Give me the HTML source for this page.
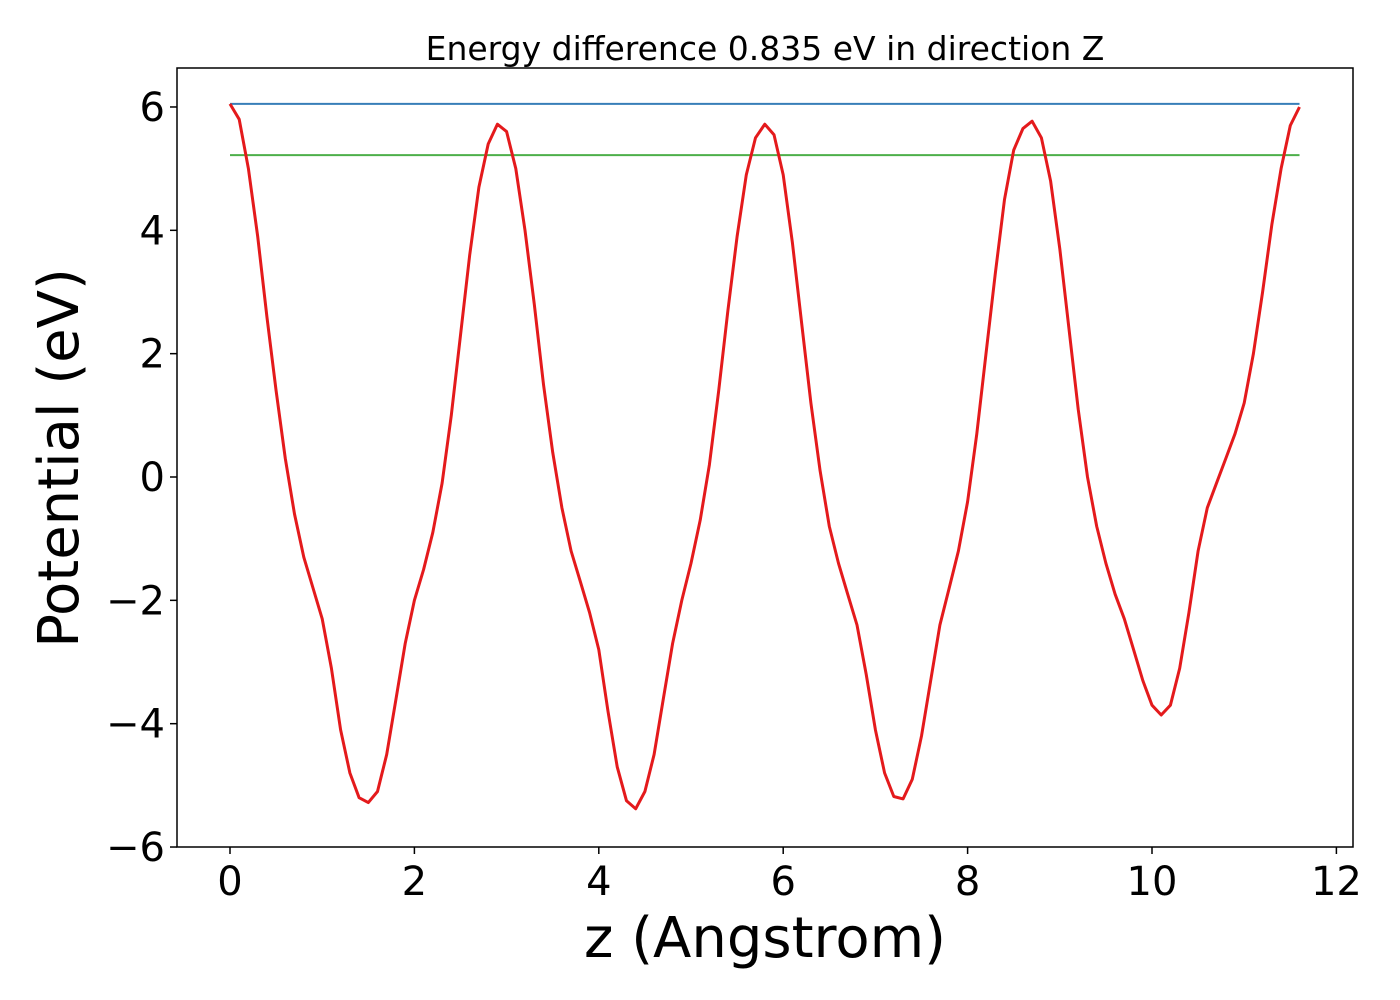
<!DOCTYPE html>
<html><head><meta charset="utf-8"><style>
html,body{margin:0;padding:0;background:#fff;}
svg{display:block;font-family:"DejaVu Sans","Liberation Sans",sans-serif;}
</style></head><body>
<svg id="chart" width="1400" height="1000" viewBox="0 0 1400 1000">
<rect x="0" y="0" width="1400" height="1000" fill="#fff"/>
<text x="765" y="60" font-size="33" text-anchor="middle">Energy difference 0.835 eV in direction Z</text>
<g id="plot"></g>
<text x="765" y="957" font-size="56" text-anchor="middle">z (Angstrom)</text>
<text transform="translate(78,458) rotate(-90)" font-size="56" text-anchor="middle">Potential (eV)</text>
</svg>
<script>
const zValues=[0,0.1,0.2,0.3,0.4,0.5,0.6,0.7,0.8,0.9,1.0,1.1,1.2,1.3,1.4,1.5,1.6,1.7,1.8,1.9,2.0,2.1,2.2,2.3,2.4,2.5,2.6,2.7,2.8,2.9,3.0,3.1,3.2,3.3,3.4,3.5,3.6,3.7,3.8,3.9,4.0,4.1,4.2,4.3,4.4,4.5,4.6,4.7,4.8,4.9,5.0,5.1,5.2,5.3,5.4,5.5,5.6,5.7,5.8,5.9,6.0,6.1,6.2,6.3,6.4,6.5,6.6,6.7,6.8,6.9,7.0,7.1,7.2,7.3,7.4,7.5,7.6,7.7,7.8,7.9,8.0,8.1,8.2,8.3,8.4,8.5,8.6,8.7,8.8,8.9,9.0,9.1,9.2,9.3,9.4,9.5,9.6,9.7,9.8,9.9,10.0,10.1,10.2,10.3,10.4,10.5,10.6,10.7,10.8,10.9,11.0,11.1,11.2,11.3,11.4,11.5,11.6];
const potential=[6.05,5.8,5.0,3.9,2.6,1.4,0.3,-0.6,-1.3,-1.8,-2.3,-3.1,-4.1,-4.8,-5.2,-5.28,-5.1,-4.5,-3.6,-2.7,-2.0,-1.5,-0.9,-0.1,1.0,2.3,3.6,4.7,5.4,5.72,5.6,5.0,4.0,2.8,1.5,0.4,-0.5,-1.2,-1.7,-2.2,-2.8,-3.8,-4.7,-5.25,-5.38,-5.1,-4.5,-3.6,-2.7,-2.0,-1.4,-0.7,0.2,1.4,2.7,3.9,4.9,5.5,5.72,5.55,4.9,3.8,2.5,1.2,0.1,-0.8,-1.4,-1.9,-2.4,-3.2,-4.1,-4.8,-5.18,-5.22,-4.9,-4.2,-3.3,-2.4,-1.8,-1.2,-0.4,0.7,2.0,3.3,4.5,5.3,5.65,5.77,5.5,4.8,3.7,2.4,1.1,0.0,-0.8,-1.4,-1.9,-2.3,-2.8,-3.3,-3.7,-3.86,-3.7,-3.1,-2.2,-1.2,-0.5,-0.1,0.3,0.7,1.2,2.0,3.0,4.1,5.0,5.7,6.0];
const vmaxLine=[6.05];
const vminLine=[5.22];
const lineRange=[0,11.6];
const xTicks=[0,2,4,6,8,10,12];
const yTicks=[-6,-4,-2,0,2,4,6];
const xTickLabels=["0","2","4","6","8","10","12"];
const yTickLabels=["\u22126","\u22124","\u22122","0","2","4","6"];

const L=177,R=1353,T=68,B=847;
const xs=z=>230+z*92.2;
const ys=v=>477-v*61.67;
const NS="http://www.w3.org/2000/svg";
const g=document.getElementById('plot');
function mk(tag,attrs){const e=document.createElementNS(NS,tag);for(const k in attrs)e.setAttribute(k,attrs[k]);g.appendChild(e);return e;}

let hl=mk('line',{x1:xs(lineRange[0]),x2:xs(lineRange[1]),y1:ys(vmaxLine[0]),y2:ys(vmaxLine[0]),stroke:'#377eb8','stroke-width':2});


let gl=mk('line',{x1:xs(lineRange[0]),x2:xs(lineRange[1]),y1:ys(vminLine[0]),y2:ys(vminLine[0]),stroke:'#4daf4a','stroke-width':2});



let d=zValues.map((z,i)=>(i?'L':'M')+xs(z).toFixed(1)+','+ys(potential[i]).toFixed(1)).join(' ');
let p=mk('path',{d:d,fill:'none',stroke:'#e41a1c','stroke-width':3,'stroke-linejoin':'round'});



let fr=mk('rect',{x:L,y:T,width:R-L,height:B-T,fill:'none',stroke:'#000','stroke-width':1.5});



xTicks.forEach((t,i)=>{
  let tk=mk('line',{x1:xs(t),x2:xs(t),y1:B,y2:B+7,stroke:'#000','stroke-width':1.5});
  
  
  let tx=mk('text',{x:xs(t),y:B+48,'font-size':40,'text-anchor':'middle'});
  tx.textContent=xTickLabels[i];
  
  
});
yTicks.forEach((t,i)=>{
  let tk=mk('line',{x1:L-7,x2:L,y1:ys(t),y2:ys(t),stroke:'#000','stroke-width':1.5});
  
  
  let tx=mk('text',{x:L-12,y:ys(t)+14,'font-size':40,'text-anchor':'end'});
  tx.textContent=yTickLabels[i];
  
  
});
</script>
</body></html>
